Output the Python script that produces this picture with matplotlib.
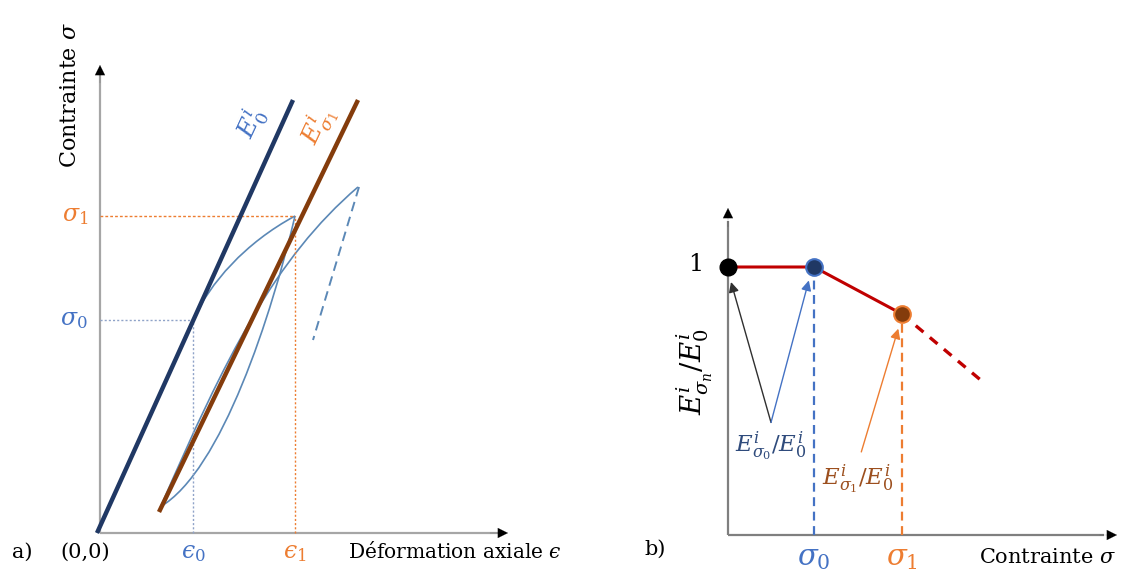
import matplotlib
matplotlib.use("Agg")
import matplotlib.pyplot as plt
from matplotlib.path import Path
from matplotlib.patches import PathPatch

plt.rcParams['font.family'] = ['DejaVu Serif']
plt.rcParams['mathtext.fontset'] = 'dejavuserif'

# ---------------- Panel a data (schematic strain / stress) ----------------
e0_line_eps = [-0.03, 1.93]
e0_line_sig = [0.0, 4.33]
es1_line_eps = [0.59, 2.58]
es1_line_sig = [0.21, 4.33]

# loading: straight part then cubic Bezier (control points)
load_eps = [-0.03, 0.93, 1.10, 1.45, 1.95]
load_sig = [0.00, 2.13, 2.50, 2.90, 3.17]

# unloading S-curve (cubic Bezier control points)
unload_eps = [1.95, 1.72, 1.22, 0.60]
unload_sig = [3.17, 2.20, 0.62, 0.26]

# reloading (cubic Bezier control points)
reload_eps = [0.61, 1.25, 1.75, 2.58]
reload_sig = [0.27, 1.75, 2.75, 3.46]

unload2_eps = [2.59, 2.13]
unload2_sig = [3.46, 1.93]

eps0, sig0 = 0.93, 2.13
eps1, sig1 = 1.95, 3.17

# ---------------- Panel b data (ratio vs stress) ----------------
ratio_sig = [0.0, 1.0, 2.02]
ratio_val = [1.0, 1.0, 0.825]
extrap_sig = [2.02, 2.95]
extrap_val = [0.825, 0.575]

W, H = 1123, 572
fig = plt.figure(figsize=(W / 100, H / 100), dpi=100)

def px_axes(x0, y0, x1, y1):
    return fig.add_axes([x0 / W, (H - y1) / H, (x1 - x0) / W, (y1 - y0) / H])

NAVY = '#203864'
BROWN = '#843c0c'
THIN = '#5b88b6'
ORANGE = '#ed7d31'
BLUE = '#4472c4'
RED = '#c00000'

def bezier(ax, xs, ys, codes, **kw):
    p = PathPatch(Path(list(zip(xs, ys)), codes), fill=False, clip_on=False, **kw)
    ax.add_patch(p)

# ======================= Panel a =======================
ax = px_axes(100, 65, 508, 533)
ax.set_xlim(0, 4.08)
ax.set_ylim(0, 4.68)
ax.axis('off')

ax.plot([0, 3.98], [0, 0], color='#a6a6a6', lw=1.6, clip_on=False, solid_capstyle='butt')
ax.plot([0, 0], [0, 4.58], color='#a6a6a6', lw=1.6, clip_on=False, solid_capstyle='butt')
ax.annotate('', xy=(4.08, 0), xytext=(3.9, 0),
            arrowprops=dict(arrowstyle='-|>', color='black', lw=0.1, mutation_scale=18,
                            shrinkA=0, shrinkB=0))
ax.annotate('', xy=(0, 4.68), xytext=(0, 4.5),
            arrowprops=dict(arrowstyle='-|>', color='black', lw=0.1, mutation_scale=18,
                            shrinkA=0, shrinkB=0))

ax.plot([0, eps1], [sig1, sig1], color=ORANGE, lw=1.0, ls=(0, (2, 1.5)), clip_on=False)
ax.plot([eps1, eps1], [0, sig1], color=ORANGE, lw=1.0, ls=(0, (1.5, 1.5)), clip_on=False)
ax.plot([0, eps0], [sig0, sig0], color='#8fa3c8', lw=1.0, ls=(0, (1.5, 1.5)), clip_on=False)
ax.plot([eps0, eps0], [0, sig0], color='#8fa3c8', lw=1.0, ls=(0, (1.5, 1.5)), clip_on=False)

bezier(ax, load_eps, load_sig,
       [Path.MOVETO, Path.LINETO, Path.CURVE4, Path.CURVE4, Path.CURVE4],
       edgecolor=THIN, lw=1.2)
bezier(ax, unload_eps, unload_sig,
       [Path.MOVETO, Path.CURVE4, Path.CURVE4, Path.CURVE4],
       edgecolor=THIN, lw=1.2)
bezier(ax, reload_eps, reload_sig,
       [Path.MOVETO, Path.CURVE4, Path.CURVE4, Path.CURVE4],
       edgecolor=THIN, lw=1.2)
ax.plot(unload2_eps, unload2_sig, color=THIN, lw=1.4, ls=(0, (5, 3)), clip_on=False)

ax.plot(e0_line_eps, e0_line_sig, color=NAVY, lw=3.2, clip_on=False, solid_capstyle='butt')
ax.plot(es1_line_eps, es1_line_sig, color=BROWN, lw=3.2, clip_on=False, solid_capstyle='butt')

ax.text(1.52, 4.1, r'$E_0^i$', color=BLUE, fontsize=18, rotation=65,
        ha='center', va='center')
ax.text(2.18, 4.07, r'$E_{\sigma_1}^i$', color=ORANGE, fontsize=18, rotation=65,
        ha='center', va='center')
ax.text(-0.12, sig1, r'$\sigma_1$', color=ORANGE, fontsize=17, ha='right', va='center')
ax.text(-0.12, sig0, r'$\sigma_0$', color=BLUE, fontsize=17, ha='right', va='center')
ax.text(eps0, -0.2, '$\u03f5_0$', color=BLUE, fontsize=17, ha='center', va='center')
ax.text(eps1, -0.2, '$\u03f5_1$', color=ORANGE, fontsize=17, ha='center', va='center')
ax.text(-0.15, -0.19, '(0,0)', color='black', fontsize=15, ha='center', va='center')
ax.text(-0.78, -0.19, 'a)', color='black', fontsize=15, ha='center', va='center')
ax.text(3.55, -0.19, 'Déformation axiale $\u03f5$', color='black', fontsize=14.5,
        ha='center', va='center')
ax.text(-0.3, 4.38, r'Contrainte $\sigma$', color='black', fontsize=16, rotation=90,
        ha='center', va='center')

# ======================= Panel b =======================
bx = px_axes(728, 208, 1117, 535)
xm, ym = 389 / 86, 327 / 268
bx.set_xlim(0, xm)
bx.set_ylim(0, ym)
bx.axis('off')

bx.plot([0, xm - 0.15], [0, 0], color='#7f7f7f', lw=1.6, clip_on=False, solid_capstyle='butt')
bx.plot([0, 0], [0, ym - 0.05], color='#7f7f7f', lw=1.6, clip_on=False, solid_capstyle='butt')
bx.annotate('', xy=(xm, 0), xytext=(xm - 0.2, 0),
            arrowprops=dict(arrowstyle='-|>', color='black', lw=0.1, mutation_scale=18,
                            shrinkA=0, shrinkB=0))
bx.annotate('', xy=(0, ym), xytext=(0, ym - 0.07),
            arrowprops=dict(arrowstyle='-|>', color='black', lw=0.1, mutation_scale=18,
                            shrinkA=0, shrinkB=0))

bx.plot([ratio_sig[1], ratio_sig[1]], [0, ratio_val[1]], color=BLUE, lw=1.6,
        ls=(0, (4, 2.5)), clip_on=False)
bx.plot([ratio_sig[2], ratio_sig[2]], [0, ratio_val[2]], color=ORANGE, lw=1.6,
        ls=(0, (4, 2.5)), clip_on=False)

bx.plot(ratio_sig, ratio_val, color=RED, lw=2.2, clip_on=False)
bx.plot(extrap_sig, extrap_val, color=RED, lw=2.4, ls=(0, (3, 2.5)), clip_on=False)

bx.plot([ratio_sig[0]], [ratio_val[0]], 'o', ms=12, mfc='black', mec='black', clip_on=False, zorder=5)
bx.plot([ratio_sig[1]], [ratio_val[1]], 'o', ms=12, mfc=NAVY, mec=BLUE, mew=1.5, clip_on=False, zorder=5)
bx.plot([ratio_sig[2]], [ratio_val[2]], 'o', ms=12, mfc=BROWN, mec=ORANGE, mew=1.5, clip_on=False, zorder=5)

bx.annotate('', xy=(0.035, 0.944), xytext=(0.5, 0.42),
            arrowprops=dict(arrowstyle='-|>', color='#303030', lw=1.0, mutation_scale=15,
                            shrinkA=0, shrinkB=0))
bx.annotate('', xy=(0.94, 0.95), xytext=(0.5, 0.42),
            arrowprops=dict(arrowstyle='-|>', color=BLUE, lw=1.0, mutation_scale=15,
                            shrinkA=0, shrinkB=0))
bx.annotate('', xy=(1.98, 0.77), xytext=(1.55, 0.31),
            arrowprops=dict(arrowstyle='-|>', color=ORANGE, lw=1.0, mutation_scale=15,
                            shrinkA=0, shrinkB=0))

bx.text(0.5, 0.33, r'$E_{\sigma_0}^i/E_0^i$', color='#2f4b7c', fontsize=16.5,
        ha='center', va='center')
bx.text(1.51, 0.21, r'$E_{\sigma_1}^i/E_0^i$', color='#9c4f1e', fontsize=16.5,
        ha='center', va='center')
bx.text(-0.38, 1.01, '1', color='black', fontsize=17, ha='center', va='center')
bx.text(-0.38, 0.61, r'$E_{\sigma_n}^i/E_0^i$', color='black', fontsize=20, rotation=90,
        ha='center', va='center')
bx.text(ratio_sig[1], -0.085, r'$\sigma_0$', color=BLUE, fontsize=21, ha='center', va='center')
bx.text(ratio_sig[2], -0.085, r'$\sigma_1$', color=ORANGE, fontsize=21, ha='center', va='center')
bx.text(-0.85, -0.055, 'b)', color='black', fontsize=15, ha='center', va='center')
bx.text(3.72, -0.085, r'Contrainte $\sigma$', color='black', fontsize=15,
        ha='center', va='center')

fig.savefig('out.png', dpi=100)
